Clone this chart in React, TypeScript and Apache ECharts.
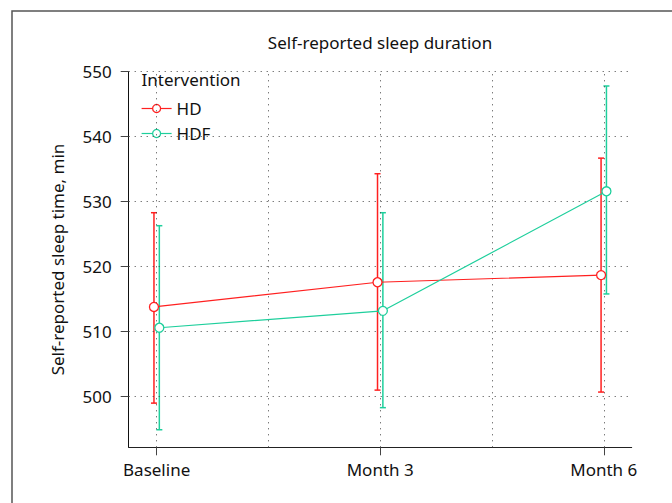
import React, { useEffect, useRef } from "react";
import * as echarts from "echarts";

const categories = ["Baseline", "Month 3", "Month 6"];
const yTicks = [500, 510, 520, 530, 540, 550];
const xGrid = [0, 0.5, 1, 1.5, 2];

const hdMean = [513.8, 517.6, 518.7];
const hdLow = [499.0, 501.0, 500.7];
const hdHigh = [528.3, 534.3, 536.7];

const hdfMean = [510.6, 513.2, 531.6];
const hdfLow = [494.9, 498.3, 515.8];
const hdfHigh = [526.3, 528.3, 547.8];

const RED = "#ff2020";
const TEAL = "#1ecf9c";
const FONT = "Noto Sans";
const FS = 17;
const DODGE = 0.012;

function errSeries(name: string, color: string, off: number, lo: number[], hi: number[]) {
  return {
    name,
    type: "custom",
    z: 3,
    silent: true,
    data: lo.map((l, i) => [i + off, l, hi[i]]),
    renderItem: (_p: any, api: any) => {
      const x = api.value(0);
      const a = api.coord([x, api.value(1)]);
      const b = api.coord([x, api.value(2)]);
      const w = 3;
      const style = { stroke: color, lineWidth: 1.5 };
      return {
        type: "group",
        children: [
          { type: "line", shape: { x1: a[0], y1: a[1], x2: b[0], y2: b[1] }, style },
          { type: "line", shape: { x1: a[0] - w, y1: a[1], x2: a[0] + w, y2: a[1] }, style },
          { type: "line", shape: { x1: b[0] - w, y1: b[1], x2: b[0] + w, y2: b[1] }, style },
        ],
      };
    },
  };
}

function meanSeries(name: string, color: string, off: number, vals: number[]) {
  return {
    name,
    type: "line",
    z: 5,
    data: vals.map((v, i) => [i + off, v]),
    symbol: "circle",
    symbolSize: 9,
    itemStyle: { color: "#fff", borderColor: color, borderWidth: 1.3 },
    lineStyle: { color, width: 1.2 },
  };
}

export default function App() {
  const ref = useRef<HTMLDivElement>(null);
  useEffect(() => {
    const chart = echarts.init(ref.current!, null, { renderer: "svg" });
    const dot = { color: "#444", width: 1, type: [1, 5] };
    chart.setOption({
      animation: false,
      textStyle: { fontFamily: FONT },
      title: [
        {
          text: "Self-reported sleep duration",
          left: 380,
          top: 34,
          padding: 0,
          textAlign: "center",
          textStyle: { fontFamily: FONT, fontSize: FS, fontWeight: "normal", color: "#111" },
        },
        {
          text: "Intervention",
          left: 141.5,
          top: 71,
          padding: 0,
          textStyle: { fontFamily: FONT, fontSize: FS, fontWeight: "normal", color: "#111" },
        },
      ],
      legend: {
        data: ["HD", "HDF"],
        orient: "vertical",
        left: 129,
        top: 70,
        padding: [30, 32, 4, 12],
        backgroundColor: "#fff",
        itemWidth: 30,
        itemHeight: 10,
        itemGap: 8,
        itemStyle: { borderWidth: 1.3 },
        lineStyle: { width: 1.2 },
        textStyle: { fontFamily: FONT, fontSize: FS, color: "#111" },
      },
      graphic: [
        {
          type: "rect",
          shape: { x: 12, y: 11, width: 720, height: 600 },
          style: { fill: "none", stroke: "#555", lineWidth: 1.5 },
          silent: true,
        },
      ],
      grid: { left: 128.7, right: 40.3, top: 71.7, bottom: 55.7 },
      xAxis: {
        type: "value",
        min: -0.125,
        max: 2.125,
        splitLine: { show: false },
        axisLine: { onZero: false, lineStyle: { color: "#222", width: 1 } },
        axisTick: { customValues: [0, 1, 2], length: 8, lineStyle: { color: "#444" } },
        axisLabel: {
          customValues: [0, 1, 2],
          formatter: (v: number) => categories[Math.round(v)] ?? "",
          margin: 14,
          fontFamily: FONT,
          fontSize: FS,
          color: "#111",
        },
      },
      yAxis: {
        type: "value",
        min: 492.2,
        max: 550,
        name: "Self-reported sleep time, min",
        nameLocation: "middle",
        nameGap: 63,
        nameTextStyle: { fontFamily: FONT, fontSize: FS, color: "#111" },
        splitLine: { show: false },
        axisLine: { show: true, onZero: false, lineStyle: { color: "#111", width: 1 } },
        axisTick: { show: true, customValues: yTicks, length: 8, lineStyle: { color: "#444" } },
        axisLabel: {
          customValues: yTicks,
          margin: 17,
          fontFamily: FONT,
          fontSize: FS,
          color: "#111",
        },
      },
      series: [
        {
          name: "_grid",
          type: "line",
          z: 1,
          data: [],
          markLine: {
            silent: true,
            symbol: ["none", "none"],
            label: { show: false },
            lineStyle: dot,
            animation: false,
            data: [
              ...xGrid.map((x) => ({ xAxis: x })),
              ...yTicks.map((y) => ({ yAxis: y })),
            ],
          },
        },
        errSeries("HD err", RED, -DODGE, hdLow, hdHigh),
        errSeries("HDF err", TEAL, DODGE, hdfLow, hdfHigh),
        meanSeries("HD", RED, -DODGE, hdMean),
        meanSeries("HDF", TEAL, DODGE, hdfMean),
      ],
    });
    return () => chart.dispose();
  }, []);
  return (
    <div
      ref={ref}
      style={{ position: "fixed", left: 0, top: 0, width: 672, height: 503, background: "#fff" }}
    />
  );
}
